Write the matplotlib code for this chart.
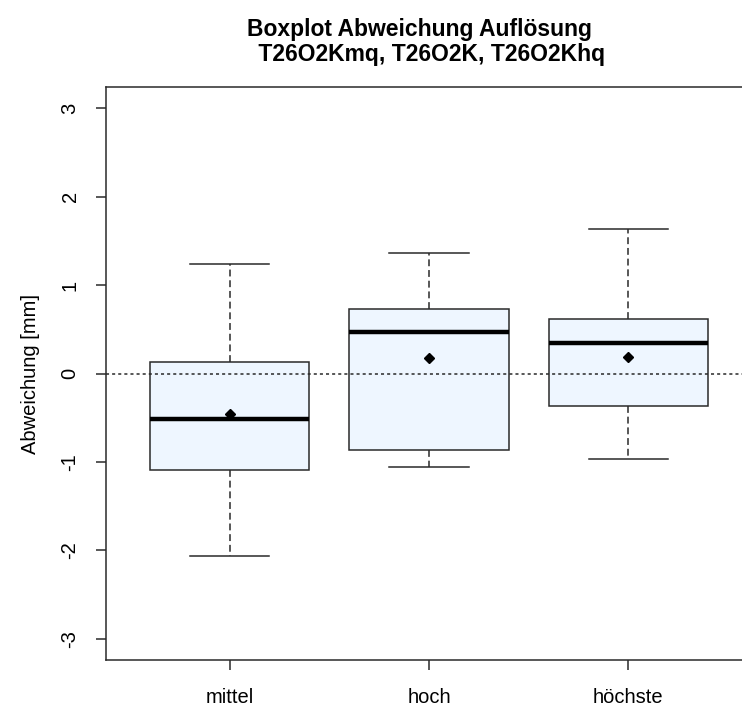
import matplotlib
matplotlib.use("Agg")
import matplotlib.pyplot as plt

plt.rcParams['font.family'] = ['Liberation Sans', 'DejaVu Sans']

categories = ['mittel', 'hoch', 'höchste']
whislo = [-2.06, -1.06, -0.97]
q1 = [-1.09, -0.87, -0.37]
med = [-0.52, 0.47, 0.34]
q3 = [0.135, 0.725, 0.62]
whishi = [1.24, 1.36, 1.63]
means = [-0.46, 0.17, 0.19]

stats = []
for i in range(len(categories)):
    stats.append({'label': categories[i], 'whislo': whislo[i], 'q1': q1[i],
                  'med': med[i], 'q3': q3[i], 'whishi': whishi[i],
                  'mean': means[i], 'fliers': []})

fig = plt.figure(figsize=(7.42, 7.11), dpi=100)
# plot region runs a bit past the right edge of the picture
ax = fig.add_axes([106 / 742, 51 / 711, 646 / 742, 573 / 711])

ax.bxp(stats, positions=[1, 2, 3], widths=0.8, capwidths=0.4,
       showmeans=True, patch_artist=True,
       boxprops=dict(facecolor='#eef6ff', edgecolor='#2a2a2a', linewidth=1.1),
       medianprops=dict(color='black', linewidth=3.2, solid_capstyle='butt'),
       whiskerprops=dict(color='#2a2a2a', linewidth=1.1, linestyle=(0, (4.5, 2.5))),
       capprops=dict(color='#2a2a2a', linewidth=1.1),
       meanprops=dict(marker='D', markerfacecolor='black', markeredgecolor='black',
                      markersize=5.5))

# zero line lies over the boxes
ax.axhline(0, color='#2a2a2a', linewidth=1.1, linestyle=(0, (2, 2)), zorder=5)

ax.set_xlim(0.38, 3.62)
ax.set_ylim(-3.24, 3.24)
ax.set_yticks([-3, -2, -1, 0, 1, 2, 3])
ax.set_yticklabels(['-3', '-2', '-1', '0', '1', '2', '3'], rotation=90, va='center')
ax.set_xticks([1, 2, 3])
ax.set_xticklabels(categories)
ax.tick_params(axis='both', length=7, width=1.1, color='#2a2a2a', labelsize=14.5)
ax.tick_params(axis='x', pad=13)
ax.tick_params(axis='y', pad=12)
for s in ax.spines.values():
    s.set_linewidth(1.1)
    s.set_color('#2a2a2a')

ax.set_ylabel('Abweichung [mm]', fontsize=14.5, labelpad=15)
ax.set_title('Boxplot Abweichung Auflösung   \n T26O2Kmq, T26O2K, T26O2Khq',
             fontsize=16.5, fontweight='bold', pad=19, linespacing=1.1)

fig.savefig('out.png', dpi=100)
